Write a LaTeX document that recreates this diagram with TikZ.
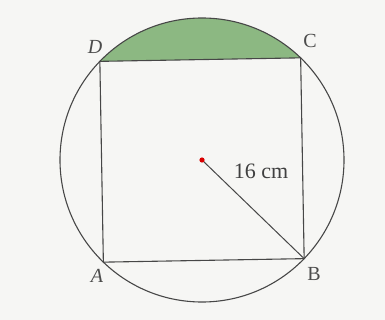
\documentclass[tikz,border=0pt]{standalone}
\usepackage{fontspec}
\setmainfont{Liberation Serif}
\usetikzlibrary{calc}
\begin{document}
\begin{tikzpicture}[x=1pt,y=-1pt,
  edge/.style={draw=black!72, line width=1.1pt},
  lbl/.style={font=\fontsize{20}{20}\selectfont\itshape, text=black!70, inner sep=0pt},
  ulbl/.style={font=\fontsize{20}{20}\selectfont, text=black!70, inner sep=0pt},
  mlbl/.style={font=\fontsize{22}{22}\selectfont, text=black!75, inner sep=0pt}]
\definecolor{bg}{RGB}{246,246,244}
\definecolor{seg}{RGB}{140,184,130}
\fill[bg] (0,0) rectangle (385,320);
\useasboundingbox (0,0) rectangle (385,320);
\coordinate (O) at (202,160);
\coordinate (A) at ($(O)+(134:142)$);
\coordinate (B) at ($(O)+(44:142)$);
\coordinate (C) at ($(O)+(-46:142)$);
\coordinate (D) at ($(O)+(-136:142)$);
\fill[seg] (C) arc[start angle=-46, end angle=-136, radius=142] -- cycle;
\draw[edge] (O) circle[radius=142];
\draw[edge] (A) -- (B) -- (C) -- (D) -- cycle;
\draw[edge, line width=1pt] (O) -- (B);
\fill[red!85!black] (O) circle[radius=2.6];
\node[lbl] (lA) at (97,276) {A};
\node[ulbl] (lB) at (314,274) {B};
\node[ulbl] (lC) at (310,41) {C};
\node[lbl] (lD) at (95,47) {D};
\node[mlbl] (r) at (261,171) {16 cm};
\end{tikzpicture}
\end{document}
